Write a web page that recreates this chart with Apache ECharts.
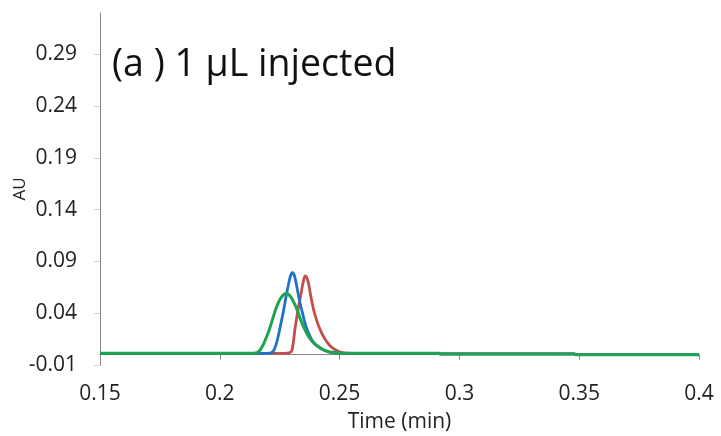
<!DOCTYPE html>
<html>
<head>
<meta charset="utf-8">
<script src="https://cdn.jsdelivr.net/npm/echarts@6/dist/echarts.min.js"></script>
<style>html,body{margin:0;padding:0;background:#fff}#c{width:721px;height:436px}</style>
</head>
<body>
<div id="c"></div>
<script>
// ---- data ----
const titleText = "(a ) 1 µL injected";
const xName = "Time (min)";
const yName = "AU";
const xTicks = [0.15, 0.2, 0.25, 0.3, 0.35, 0.4];
const yTicks = [-0.01, 0.04, 0.09, 0.14, 0.19, 0.24, 0.29];

const redTime = [0.15, 0.20, 0.2270, 0.2290, 0.2300, 0.2307, 0.2314, 0.2322, 0.2330, 0.2338, 0.2346, 0.2352, 0.2357, 0.2363, 0.2371, 0.2379, 0.2390, 0.2403, 0.2417, 0.2435, 0.2458, 0.2480, 0.2500, 0.2530, 0.2600, 0.2915, 0.2920, 0.3480, 0.3485, 0.4];
const redAU   = [0.0013, 0.0013, 0.0013, 0.0018, 0.0035, 0.0120, 0.0251, 0.0370, 0.0480, 0.0575, 0.0680, 0.0740, 0.0761, 0.0745, 0.0680, 0.0575, 0.0450, 0.0340, 0.0251, 0.0165, 0.0091, 0.0050, 0.0028, 0.0015, 0.0013, 0.0013, 0.0007, 0.0007, 0.0000, 0.0000];

const blueTime = [0.15, 0.20, 0.2200, 0.2215, 0.2225, 0.2235, 0.2245, 0.2255, 0.2265, 0.2275, 0.2285, 0.2295, 0.2303, 0.2312, 0.2322, 0.2332, 0.2344, 0.2355, 0.2368, 0.2385, 0.2403, 0.2425, 0.2450, 0.2480, 0.2520, 0.2915, 0.2920, 0.3480, 0.3485, 0.4];
const blueAU   = [0.0013, 0.0013, 0.0013, 0.0018, 0.0040, 0.0100, 0.0190, 0.0300, 0.0413, 0.0540, 0.0660, 0.0760, 0.0793, 0.0760, 0.0650, 0.0530, 0.0413, 0.0310, 0.0220, 0.0140, 0.0091, 0.0055, 0.0030, 0.0018, 0.0013, 0.0013, 0.0007, 0.0007, 0.0000, 0.0000];

const greenTime = [0.15, 0.20, 0.2120, 0.2150, 0.2165, 0.2180, 0.2195, 0.2208, 0.2220, 0.2232, 0.2245, 0.2258, 0.2270, 0.2278, 0.2288, 0.2300, 0.2313, 0.2326, 0.2338, 0.2351, 0.2368, 0.2385, 0.2403, 0.2430, 0.2458, 0.2500, 0.2550, 0.2915, 0.2920, 0.3480, 0.3485, 0.4];
const greenAU   = [0.0013, 0.0013, 0.0013, 0.0016, 0.0035, 0.0091, 0.0170, 0.0251, 0.0340, 0.0430, 0.0505, 0.0558, 0.0585, 0.0590, 0.0580, 0.0545, 0.0485, 0.0413, 0.0335, 0.0260, 0.0185, 0.0130, 0.0091, 0.0050, 0.0027, 0.0016, 0.0013, 0.0013, 0.0007, 0.0007, 0.0000, 0.0000];

function pairs(t, v) { return t.map((x, i) => [x, v[i]]); }

const chart = echarts.init(document.getElementById('c'), null, {renderer: 'canvas'});
const font = "'Open Sans', 'Liberation Sans', sans-serif";
const axisColor = '#868686';

chart.setOption({
  animation: false,
  backgroundColor: '#ffffff',
  title: {
    text: titleText,
    left: 107,
    top: 41,
    textStyle: {fontFamily: font, fontSize: 37.5, fontWeight: 'normal', color: '#111'}
  },
  grid: {left: 100, right: 22, top: 13, bottom: 71, containLabel: false, outerBoundsMode: 'none'},
  xAxis: {
    type: 'value',
    min: 0.15, max: 0.4, interval: 0.05,
    name: xName,
    nameLocation: 'middle',
    nameGap: 47,
    nameMoveOverlap: false,
    nameTextStyle: {fontFamily: font, fontSize: 21, color: '#222'},
    splitLine: {show: false},
    axisLine: {lineStyle: {color: axisColor, width: 1}},
    axisTick: {show: true, customValues: xTicks, length: 5, lineStyle: {color: axisColor}},
    axisLabel: {customValues: xTicks, margin: 19, fontFamily: font, fontSize: 21, color: '#222',
      formatter: v => String(+v.toFixed(2))}
  },
  yAxis: {
    type: 'value',
    min: -0.01, max: 0.33,
    name: yName,
    nameLocation: 'middle',
    nameGap: 71,
    nameRotate: 90,
    nameMoveOverlap: false,
    nameTextStyle: {fontFamily: font, fontSize: 17, color: '#222'},
    splitLine: {show: false},
    axisLine: {show: true, lineStyle: {color: axisColor, width: 1}},
    axisTick: {show: true, customValues: yTicks, length: 6, lineStyle: {color: '#d4d4d4'}},
    axisLabel: {customValues: yTicks, margin: 23, fontFamily: font, fontSize: 21, color: '#222',
      formatter: v => v.toFixed(2)}
  },
  series: [
    {type: 'line', name: 'red', data: pairs(redTime, redAU), smooth: 0.3, showSymbol: false,
      lineStyle: {color: '#c0504d', width: 2.8}, z: 2},
    {type: 'line', name: 'blue', data: pairs(blueTime, blueAU), smooth: 0.3, showSymbol: false,
      lineStyle: {color: '#1f72c6', width: 2.8}, z: 3},
    {type: 'line', name: 'green', data: pairs(greenTime, greenAU), smooth: 0.3, showSymbol: false,
      lineStyle: {color: '#1ea44e', width: 3}, z: 4}
  ]
});
</script>
</body>
</html>
